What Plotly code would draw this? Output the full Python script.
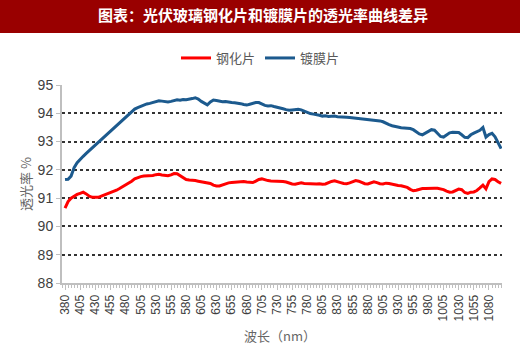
import plotly.graph_objects as go

wavelength = list(range(380, 1101, 5))

tempered = [
    90.65, 90.88, 91.00, 91.08, 91.13, 91.17, 91.21, 91.15, 91.07, 91.03,
    91.02, 91.03, 91.07, 91.11, 91.15, 91.19, 91.23, 91.28, 91.34, 91.40,
    91.46, 91.52, 91.60, 91.68, 91.73, 91.76, 91.78, 91.79, 91.78, 91.80,
    91.83, 91.84, 91.82, 91.80, 91.79, 91.82, 91.87, 91.86, 91.80, 91.72,
    91.66, 91.64, 91.64, 91.62, 91.60, 91.58, 91.57, 91.56, 91.52, 91.46,
    91.43, 91.43, 91.47, 91.51, 91.54, 91.55, 91.56, 91.57, 91.58, 91.59,
    91.57, 91.56, 91.55, 91.60, 91.66, 91.68, 91.64, 91.62, 91.61, 91.61,
    91.60, 91.61, 91.59, 91.57, 91.53, 91.50, 91.49, 91.52, 91.54, 91.52,
    91.51, 91.50, 91.49, 91.50, 91.51, 91.49, 91.50, 91.55, 91.59, 91.61,
    91.59, 91.55, 91.52, 91.51, 91.54, 91.59, 91.62, 91.60, 91.54, 91.51,
    91.50, 91.54, 91.58, 91.55, 91.51, 91.50, 91.53, 91.52, 91.49, 91.46,
    91.45, 91.44, 91.42, 91.38, 91.31, 91.26, 91.28, 91.32, 91.34, 91.34,
    91.35, 91.34, 91.35, 91.35, 91.33, 91.30, 91.25, 91.21, 91.22, 91.28,
    91.32, 91.30, 91.20, 91.17, 91.21, 91.22, 91.27, 91.36, 91.46, 91.33,
    91.58, 91.68, 91.66, 91.58, 91.52,
]

coated = [
    91.66, 91.67, 91.78, 92.08, 92.25, 92.38, 92.48, 92.58, 92.68, 92.78,
    92.86, 92.96, 93.06, 93.16, 93.26, 93.37, 93.47, 93.57, 93.68, 93.78,
    93.88, 93.98, 94.07, 94.15, 94.20, 94.25, 94.30, 94.33, 94.35, 94.38,
    94.42, 94.44, 94.43, 94.41, 94.40, 94.42, 94.46, 94.48, 94.46, 94.49,
    94.48, 94.49, 94.52, 94.55, 94.50, 94.42, 94.35, 94.30, 94.40, 94.47,
    94.45, 94.42, 94.41, 94.42, 94.39, 94.38, 94.37, 94.36, 94.34, 94.31,
    94.29, 94.32, 94.35, 94.38, 94.38, 94.33, 94.28, 94.26, 94.27, 94.24,
    94.22, 94.20, 94.16, 94.13, 94.11, 94.12, 94.14, 94.14, 94.12, 94.07,
    94.02, 93.99, 93.97, 93.96, 93.93, 93.90, 93.91, 93.89, 93.90, 93.90,
    93.88, 93.88, 93.86, 93.86, 93.85, 93.84, 93.83, 93.82, 93.80, 93.79,
    93.78, 93.77, 93.76, 93.74, 93.73, 93.70, 93.64, 93.60, 93.56, 93.53,
    93.50, 93.49, 93.48, 93.47, 93.46, 93.42, 93.34, 93.27, 93.24, 93.30,
    93.38, 93.42, 93.40, 93.28, 93.18, 93.16, 93.25, 93.31, 93.33, 93.33,
    93.32, 93.24, 93.15, 93.14, 93.24, 93.30, 93.34, 93.40, 93.50, 93.16,
    93.25, 93.29, 93.17, 92.95, 92.75,
]

tick_labels = list(range(380, 1081, 25))
y_ticks = [88, 89, 90, 91, 92, 93, 94, 95]

W, H = 520, 352
ML, MR, MT, MB = 62, 18, 85, 69
PW, PH = W - ML - MR, H - MT - MB

fig = go.Figure()
fig.add_trace(go.Scatter(x=wavelength, y=tempered, mode="lines", name="钢化片",
                         line=dict(color="#ff0000", width=3)))
fig.add_trace(go.Scatter(x=wavelength, y=coated, mode="lines", name="镀膜片",
                         line=dict(color="#1c5a8e", width=3)))

# title bar
fig.add_shape(type="rect", xref="paper", yref="paper",
              x0=-ML / PW, x1=1 + MR / PW, y0=1 + (MT - 33) / PH, y1=1 + MT / PH,
              fillcolor="#990000", line=dict(width=0), layer="below")
fig.add_annotation(text="<b>图表：光伏玻璃钢化片和镀膜片的透光率曲线差异</b>",
                   xref="paper", yref="paper", x=(263 - ML) / PW, y=1 + (MT - 15) / PH,
                   showarrow=False, xanchor="center", yanchor="middle",
                   font=dict(family="Noto Sans CJK SC", size=15, color="white"))
# axis titles
fig.add_annotation(text="透光率 %", xref="paper", yref="paper",
                   x=(25 - ML) / PW, y=0.5, textangle=-90, showarrow=False,
                   xanchor="center", yanchor="middle",
                   font=dict(family="Noto Sans CJK SC", size=13, color="#666666"))
fig.add_annotation(text="波长（nm）", xref="paper", yref="paper",
                   x=(280 - ML) / PW, y=-(335 - MT - PH) / PH, showarrow=False,
                   xanchor="center", yanchor="middle",
                   font=dict(family="Noto Sans CJK SC", size=13, color="#666666"))

fig.update_layout(
    width=W, height=H,
    margin=dict(l=ML, r=MR, t=MT, b=MB),
    paper_bgcolor="white", plot_bgcolor="white",
    showlegend=True,
    legend=dict(orientation="h", x=(176 - ML) / PW, y=1 + (MT - 58) / PH,
                xanchor="left", yanchor="middle",
                font=dict(family="Noto Sans CJK SC", size=13, color="#595959"),
                itemwidth=30, tracegroupgap=0, bgcolor="rgba(0,0,0,0)"),
    font=dict(family="Liberation Sans, Arial", color="#404040"),
)
fig.update_xaxes(
    range=[375, 1101.5], tickmode="array", tickvals=tick_labels,
    ticktext=[str(t) for t in tick_labels], tickangle=-90,
    tickfont=dict(size=12, color="#404040"),
    showgrid=False, showline=True, linecolor="#bfbfbf", linewidth=2,
    ticks="outside", ticklen=5, tickcolor="#bfbfbf",
    minor=dict(ticks="outside", dtick=5, tick0=380, ticklen=3, tickcolor="#bfbfbf"),
    zeroline=False,
)
fig.update_yaxes(
    range=[88, 95], tickvals=y_ticks, tickfont=dict(size=14, color="#404040"),
    showgrid=True, gridcolor="#333333", gridwidth=1.5, griddash="dot",
    showline=True, linecolor="#bfbfbf", linewidth=2,
    ticks="outside", ticklen=4, tickcolor="#bfbfbf", zeroline=False,
)

fig.write_html("out.html")
